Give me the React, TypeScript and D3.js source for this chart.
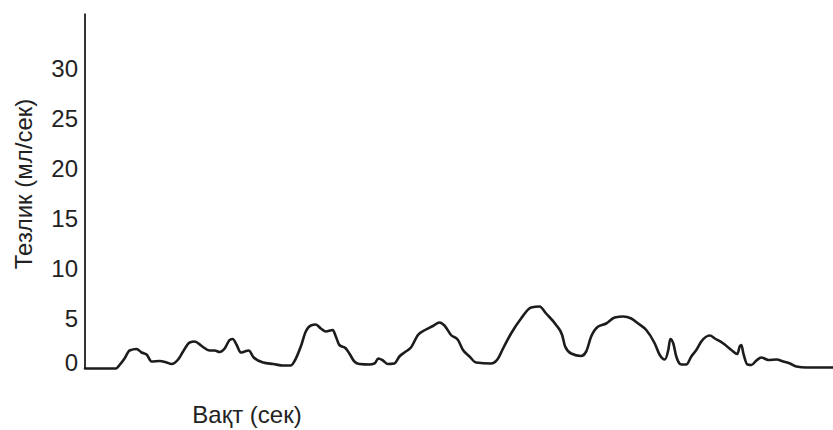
import React, { useEffect, useRef } from "react";
import * as d3 from "d3";

// Flow trace: time in seconds and flow rate in ml/s
const times: number[] = [
  0, 6.2, 6.9, 7.9, 8.9, 10.3, 11.3, 12.3, 13.3, 14.9, 16.3, 17.3, 18.6, 19.6, 20.9, 21.9,
  23.3, 24.9, 25.9, 26.9, 27.9, 28.9, 29.5, 30.3, 31.1, 31.9, 32.7, 33.7, 35.6, 37.6, 39.6,
  41.1, 41.8, 43.1, 44.1, 45.1, 46.1, 47.1, 48.1, 49.5, 50.1, 50.8, 52.1, 52.8, 53.8, 54.8,
  56.8, 57.8, 58.6, 59.5, 60.5, 61.8, 62.8, 63.8, 65.1, 66.5, 68.1, 69.5, 70.8, 71.8, 73.1,
  74.5, 75.5, 76.8, 78.1, 81.1, 82.5, 83.5, 85.1, 87.1, 89.1, 90.8, 92.1, 94.1, 95.3, 95.9,
  97.1, 99.1, 100.1, 101.1, 102.5, 104.1, 105.8, 107.5, 109.1, 110.5, 112.1, 113.8, 114.8,
  115.8, 116.5, 116.9, 117.5, 118.1, 119.1, 120.1, 121.1, 122.1, 123.1, 124.8, 125.8, 127.5,
  129.1, 130.3, 130.8, 131.1, 131.5, 132.3, 133.1, 134.1, 135.1, 136.5, 138.1, 139.5, 140.8,
  142.1, 144.1, 146.8, 149.4,
];

const flow: number[] = [
  0, 0, 0.35, 1.0, 1.8, 1.95, 1.6, 1.4, 0.7, 0.75, 0.6, 0.45, 0.9, 1.7, 2.6, 2.7,
  2.25, 1.8, 1.8, 1.65, 2.0, 2.85, 2.95, 2.35, 1.6, 1.7, 1.8, 1.1, 0.6, 0.45, 0.3,
  0.3, 0.7, 2.2, 3.7, 4.3, 4.4, 4.0, 3.7, 3.85, 3.2, 2.35, 2.0, 1.5, 0.7, 0.45,
  0.4, 0.5, 1.0, 0.8, 0.45, 0.5, 1.2, 1.6, 2.1, 3.35, 3.9, 4.25, 4.6, 4.3, 3.35,
  2.85, 1.85, 1.2, 0.6, 0.5, 1.0, 2.0, 3.5, 5.0, 6.1, 6.2, 5.5, 4.35, 3.35, 2.2,
  1.5, 1.25, 1.7, 3.2, 4.2, 4.5, 5.1, 5.2, 5.0, 4.5, 3.85, 2.5, 1.35,
  0.9, 1.85, 2.95, 2.5, 1.2, 0.4, 0.4, 1.2, 1.85, 2.7, 3.3, 3.0, 2.5,
  1.85, 1.45, 2.25, 2.35, 1.5, 0.4, 0.35, 0.8, 1.1, 0.85, 0.9, 0.7, 0.5,
  0.2, 0.1, 0.1, 0.1,
];

const yTicks: number[] = [0, 5, 10, 15, 20, 25, 30];
const yTitle = "Тезлик (мл/сек)";
const xTitle = "Вақт (сек)";

const W = 833;
const H = 430;
const FONT = "'Liberation Sans', Arial, Helvetica, sans-serif";

export default function App() {
  const ref = useRef<SVGSVGElement | null>(null);

  useEffect(() => {
    const svg = d3.select(ref.current);
    svg.selectAll("*").remove();

    const x = d3.scaleLinear().domain([0, 149.4]).range([85, 833]);
    const y = d3.scaleLinear().domain([0, 35.5]).range([368.5, 13.5]);

    // vertical axis with tick labels only
    const axis = d3
      .axisLeft(y)
      .tickValues(yTicks)
      .tickSize(0)
      .tickPadding(7)
      .tickFormat(d3.format("d"));

    const gAxis = svg.append("g").attr("transform", `translate(${x(0)},0)`).call(axis);
    gAxis.select(".domain").remove();
    gAxis
      .selectAll("text")
      .attr("font-family", FONT)
      .attr("font-size", 24)
      .attr("fill", "#222")
      .attr("dy", (d: any) => (d === 0 ? "0.08em" : "0.34em"));

    svg
      .append("line")
      .attr("x1", x(0))
      .attr("x2", x(0))
      .attr("y1", y(35.5))
      .attr("y2", y(0) + 0.5)
      .attr("stroke", "#333")
      .attr("stroke-width", 2);

    const pts = times.map((t, i) => [t, flow[i]] as [number, number]);
    const line = d3
      .line<[number, number]>()
      .x((d) => x(d[0]))
      .y((d) => y(d[1]))
      .curve(d3.curveMonotoneX);

    svg
      .append("path")
      .datum(pts)
      .attr("d", line)
      .attr("fill", "none")
      .attr("stroke", "#1c1c1c")
      .attr("stroke-width", 2.6)
      .attr("stroke-linejoin", "round")
      .attr("stroke-linecap", "round");

    svg
      .append("text")
      .attr("x", 247)
      .attr("y", 423)
      .attr("text-anchor", "middle")
      .attr("font-family", FONT)
      .attr("font-size", 24)
      .attr("fill", "#222")
      .text(xTitle);

    svg
      .append("text")
      .attr("transform", `translate(32,184) rotate(-90)`)
      .attr("text-anchor", "middle")
      .attr("font-family", FONT)
      .attr("font-size", 24)
      .attr("fill", "#222")
      .text(yTitle);
  }, []);

  return (
    <svg
      ref={ref}
      width={W}
      height={H}
      style={{ position: "absolute", left: 0, top: 0, background: "#fff" }}
    />
  );
}
